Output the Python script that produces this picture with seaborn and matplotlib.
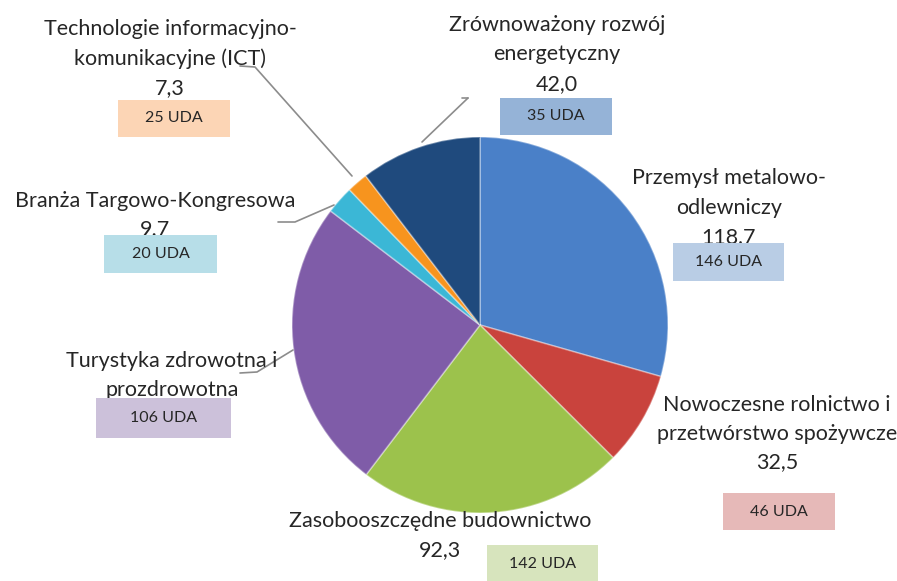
import matplotlib
matplotlib.use("Agg")
import matplotlib.pyplot as plt
import seaborn as sns
from matplotlib.patches import Rectangle

sns.set_theme(style="white")
plt.rcParams['font.family'] = ['Lato', 'DejaVu Sans']

# ---- data ----
categories = ["Przemysł metalowo-\nodlewniczy",
              "Nowoczesne rolnictwo i\nprzetwórstwo spożywcze",
              "Zasobooszczędne budownictwo",
              "Turystyka zdrowotna i\nprozdrowotna",
              "Branża Targowo-Kongresowa",
              "Technologie informacyjno-\nkomunikacyjne (ICT)",
              "Zrównoważony rozwój\nenergetyczny"]
values = [118.7, 32.5, 92.3, 101.0, 9.7, 7.3, 42.0]
# the Turystyka value is hidden under its box in the reference
value_labels = ["118,7", "32,5", "92,3", None, "9.7", "7,3", "42,0"]
uda_labels = ["146 UDA", "46 UDA", "142 UDA", "106 UDA", "20 UDA", "25 UDA", "35 UDA"]

slice_colors = ["#4A80C8", "#C9433D", "#9CC24C", "#7F5CA8", "#3BB7D6", "#F7941E", "#1F4A7D"]
box_colors = ["#B9CDE5", "#E6B9B8", "#D7E4BD", "#CCC1DA", "#B7DEE8", "#FCD5B5", "#95B3D7"]

W, H = 897, 581
fig = plt.figure(figsize=(W / 100, H / 100), dpi=100)
ax = fig.add_axes([0, 0, 1, 1])

def Y(y):
    return H - y

cx, cy, r = 480, 325, 188
wedges, _ = ax.pie(values, colors=slice_colors, startangle=90, counterclock=False,
                   center=(cx, Y(cy)), radius=r, frame=True,
                   wedgeprops=dict(edgecolor=(1, 1, 1, 0.35), linewidth=1.2))
ax.set_xlim(0, W)
ax.set_ylim(0, H)
ax.set_aspect('equal')
ax.axis('off')

txt_color = "#262626"
fs = 15.5
label_pos = [(729, 178), (777, 405), (440, 521), (172, 361), (155, 201), (170, 29), (557, 25)]
spacing = 29.5
for i, (cat, val) in enumerate(zip(categories, value_labels)):
    x, y0 = label_pos[i]
    lines = cat.split("\n")
    for j, ln in enumerate(lines):
        ax.text(x, Y(y0 + j * spacing), ln, ha='center', va='center', fontsize=fs,
                color=txt_color, zorder=3)
    if val is None:
        continue
    yv = y0 + len(lines) * spacing
    if i == 1:
        yv = y0 + 57
    ax.text(x, Y(yv), val, ha='center', va='center', fontsize=fs, color=txt_color, zorder=3)

# UDA boxes: (x0, y0, x1, y1) in pixels
boxes = [(673, 243, 784, 281), (723, 493, 835, 530), (487, 545, 598, 583),
         (96, 398, 231, 438), (104, 235, 217, 273), (118, 100, 230, 137),
         (500, 98, 612, 135)]
for (x0, y0, x1, y1), c, t in zip(boxes, box_colors, uda_labels):
    ax.add_patch(Rectangle((x0, Y(y1)), x1 - x0, y1 - y0, facecolor=c, edgecolor='none', zorder=4))
    ax.text((x0 + x1) / 2, Y((y0 + y1) / 2), t, ha='center', va='center', fontsize=11.5,
            color=txt_color, zorder=5)

# leader lines
lines = [
    [(240, 66), (255, 67), (352, 176)],
    [(462, 98), (468, 98)],
    [(468, 98), (422, 142)],
    [(278, 222), (295, 222), (334, 205)],
    [(240, 373), (257, 372), (293, 350)],
]
for pts in lines:
    xs = [p[0] for p in pts]
    ys = [Y(p[1]) for p in pts]
    ax.plot(xs, ys, color="#8C8C8C", lw=1.2, zorder=2)

fig.savefig("out.png", dpi=100, facecolor="white")
